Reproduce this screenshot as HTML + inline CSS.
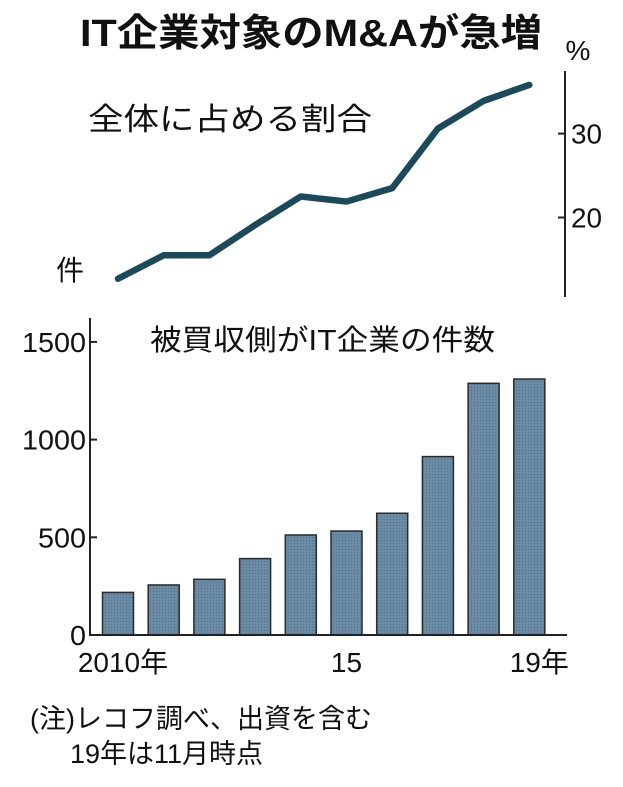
<!DOCTYPE html>
<html><head><meta charset="utf-8">
<style>
body{margin:0;background:#fff;width:623px;height:787px;overflow:hidden}
svg{display:block}
text{font-family:"Liberation Sans","Noto Sans CJK JP",sans-serif;fill:#111}
</style></head><body>
<svg id="chart" width="623" height="787" viewBox="0 0 623 787" xmlns="http://www.w3.org/2000/svg">
<defs>
<pattern id="dots" width="3" height="3" patternUnits="userSpaceOnUse">
<rect width="3" height="3" fill="#6b8ba5"/><rect width="1" height="1" fill="#4f6f88"/>
</pattern>
</defs>
<text x="311" y="46" text-anchor="middle" font-size="38" font-weight="bold" textLength="462" lengthAdjust="spacingAndGlyphs">IT企業対象のM&amp;Aが急増</text>
<text x="578" y="60" text-anchor="middle" font-size="28">%</text>
<text x="88" y="130" font-size="31" textLength="284" lengthAdjust="spacingAndGlyphs">全体に占める割合</text>
<text x="56" y="280" font-size="28">件</text>
<text x="150" y="350" font-size="29" textLength="345" lengthAdjust="spacingAndGlyphs">被買収側がIT企業の件数</text>
<g id="topG"></g>
<g id="botG"></g>
<text x="30" y="728" font-size="27">(注)レコフ調べ、出資を含む</text>
<text x="70" y="763" font-size="27">19年は11月時点</text>
</svg>
<script>
const years = [2010,2011,2012,2013,2014,2015,2016,2017,2018,2019];
const shareValues = [12.7,15.5,15.5,19.1,22.5,21.9,23.5,30.6,33.9,35.8];
const countValues = [218,256,285,391,512,532,623,913,1288,1310];
const shareTicks = [20,30];
const countTicks = [0,500,1000,1500];
const xLabels = ["2010年","","","","","15","","","","19年"];

const NS="http://www.w3.org/2000/svg";
function mk(tag,attrs,parent,txt){const e=document.createElementNS(NS,tag);for(const k in attrs)e.setAttribute(k,attrs[k]);if(txt!==undefined)e.textContent=txt;parent.appendChild(e);return e;}
const xs=i=>118+i*45.7;
const yTop=v=>217.5-(v-20)*8.39;
const yBot=v=>635-v*0.1954;

const topG=document.getElementById('topG');
const ax1=mk('line',{x1:565,y1:71,x2:565,y2:297,stroke:'#222','stroke-width':2},topG);


shareTicks.forEach(t=>{
  const tk=mk('line',{x1:558,y1:yTop(t),x2:565,y2:yTop(t),stroke:'#222','stroke-width':2},topG);
  
  
  const lb=mk('text',{x:571,y:yTop(t)+10,'font-size':28,textLength:31,lengthAdjust:'spacingAndGlyphs'},topG,String(t));
  
  
});
const ln=mk('polyline',{points:shareValues.map((v,i)=>xs(i)+','+yTop(v)).join(' '),fill:'none',stroke:'#1d4a5a','stroke-width':6.5,'stroke-linejoin':'round','stroke-linecap':'round'},topG);



const botG=document.getElementById('botG');
countValues.forEach((v,i)=>{
  const r=mk('rect',{x:xs(i)-15.5,y:yBot(v),width:31,height:635-yBot(v),fill:'url(#dots)',stroke:'#2a2a2a','stroke-width':1.5},botG);
  
  
});
const ax2=mk('line',{x1:90,y1:318,x2:90,y2:635,stroke:'#222','stroke-width':2},botG);


const bl=mk('line',{x1:89,y1:635,x2:567,y2:635,stroke:'#222','stroke-width':2},botG);


countTicks.forEach(t=>{
  if(t>0){const tk=mk('line',{x1:90,y1:yBot(t),x2:97,y2:yBot(t),stroke:'#222','stroke-width':2},botG);
  
  }
  const s=String(t);
  const lb=mk('text',{x:86,y:yBot(t)+10,'font-size':28,'text-anchor':'end',textLength:s.length*16,lengthAdjust:'spacingAndGlyphs'},botG,s);
  
  
});
xLabels.forEach((s,i)=>{
  if(!s)return;
  const lb=mk('text',{x:xs(i)+(i===0?5:i===9?10:0),y:672,'font-size':28,'text-anchor':'middle'},botG,s);
  
  
});
</script>
</body></html>
